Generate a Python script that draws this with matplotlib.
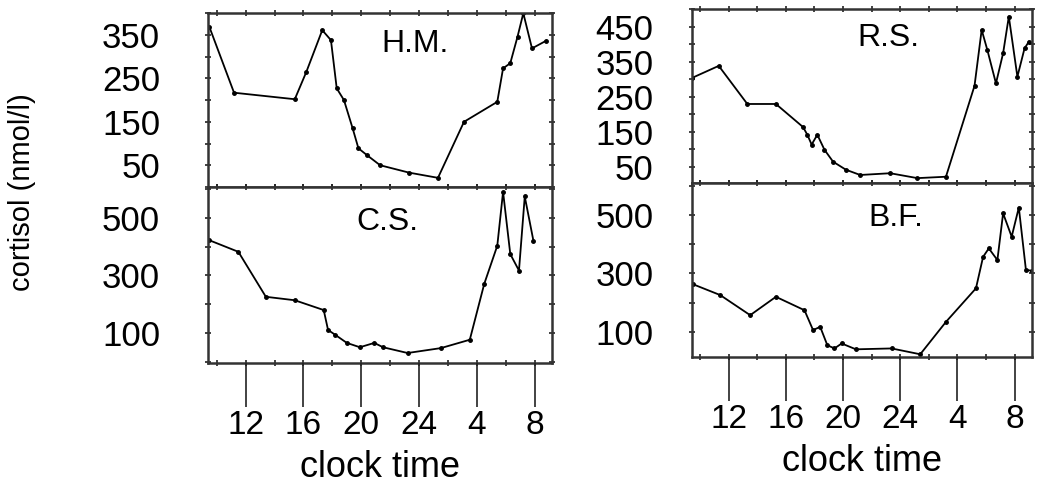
import matplotlib
matplotlib.use("Agg")
import matplotlib.pyplot as plt
from matplotlib.ticker import MultipleLocator

plt.rcParams['font.family'] = ['Liberation Sans', 'DejaVu Sans']

# clock time in hours, 24 = midnight, 28 = 4 h, 32 = 8 h next morning
hm_time = [9.5, 11.2, 15.4, 16.2, 17.3, 17.9, 18.3, 18.8, 19.4, 19.8, 20.4, 21.3,
           23.3, 25.3, 27.1, 29.4, 29.8, 30.3, 30.8, 31.2, 31.8, 32.8]
hm_cort = [368, 217, 202, 265, 361, 338, 227, 200, 135, 89, 73, 50,
           33, 21, 150, 196, 273, 285, 346, 400, 319, 337]

cs_time = [9.5, 11.5, 13.4, 15.4, 17.4, 17.7, 18.2, 19.0, 19.9, 20.9, 21.5,
           23.2, 25.5, 27.5, 28.5, 29.4, 29.8, 30.3, 30.9, 31.3, 31.9]
cs_cort = [422, 382, 226, 214, 180, 111, 94, 66, 51, 66, 51,
           31, 48, 77, 271, 403, 590, 374, 317, 574, 420]

rs_time = [9.4, 11.3, 13.3, 15.3, 17.2, 17.5, 17.8, 18.2, 18.7, 19.3, 20.2, 21.2,
           23.3, 25.2, 27.2, 29.2, 29.7, 30.1, 30.7, 31.2, 31.6, 32.2, 32.7, 33.0]
rs_cort = [303, 338, 229, 229, 163, 141, 113, 141, 98, 64, 41, 26,
           31, 17, 21, 281, 441, 383, 288, 374, 479, 307, 388, 407]

bf_time = [9.5, 11.4, 13.5, 15.3, 17.3, 17.9, 18.4, 18.9, 19.4, 19.9, 20.9,
           23.4, 25.4, 27.2, 29.3, 29.8, 30.2, 30.8, 31.2, 31.8, 32.3, 32.8, 33.2]
bf_cort = [263, 226, 157, 220, 174, 106, 117, 54, 43, 60, 40,
           43, 23, 134, 249, 357, 386, 346, 506, 426, 526, 311, 310]

hour_ticks = [12, 16, 20, 24, 28, 32]
hour_labels = ["12", "16", "20", "24", "4", "8"]


def draw_panel(ax, t, c, name, yticks, ystep, ylim, label_x, label_y, ypad):
    ax.plot(t, c, color="black", linewidth=1.3, marker="o", markersize=2.5)
    ax.set_xlim(9.4, 33.2)
    ax.set_ylim(*ylim)
    ax.set_yticks(yticks)
    ax.xaxis.set_major_locator(MultipleLocator(2))
    ax.yaxis.set_minor_locator(MultipleLocator(ystep))
    ax.tick_params(which="both", direction="inout", top=True, right=True,
                   length=5, width=1.2, color="#222222")
    ax.tick_params(axis="x", labelbottom=False)
    ax.tick_params(axis="y", which="major", labelsize=25, pad=ypad)
    for s in ax.spines.values():
        s.set_linewidth(1.8)
        s.set_color("#333333")
    ax.text(label_x, label_y, name, transform=ax.transAxes, fontsize=23,
            ha="center", va="center")


def add_clock_axis(fig, ax):
    # separate long ticks under the bottom panel, like the printed figure
    pos = ax.get_position()
    tax = fig.add_axes([pos.x0, pos.y0, pos.width, 0.001])
    tax.set_xlim(ax.get_xlim())
    tax.set_xticks(hour_ticks)
    tax.set_xticklabels(hour_labels)
    tax.set_yticks([])
    for s in tax.spines.values():
        s.set_visible(False)
    tax.patch.set_alpha(0)
    tax.tick_params(axis="x", direction="out", length=32, width=1.2,
                    labelsize=24, pad=2, color="#222222")
    tax.set_xlabel("clock time", fontsize=26, labelpad=6)


fig = plt.figure(figsize=(10.4, 4.92), dpi=100)

ax1 = fig.add_axes([0.200, 0.620, 0.331, 0.354])
ax2 = fig.add_axes([0.200, 0.262, 0.331, 0.358])
ax3 = fig.add_axes([0.665, 0.628, 0.327, 0.354])
ax4 = fig.add_axes([0.665, 0.274, 0.327, 0.354])

draw_panel(ax1, hm_time, hm_cort, "H.M.", [50, 150, 250, 350], 50, (0, 401), 0.6, 0.82, 32)
draw_panel(ax2, cs_time, cs_cort, "C.S.", [100, 300, 500], 100, (-4, 607), 0.52, 0.8, 32)
draw_panel(ax3, rs_time, rs_cort, "R.S.", [50, 150, 250, 350, 450], 50, (3, 501), 0.58, 0.83, 25)
draw_panel(ax4, bf_time, bf_cort, "B.F.", [100, 300, 500], 100, (13, 610), 0.6, 0.8, 25)

add_clock_axis(fig, ax2)
add_clock_axis(fig, ax4)

fig.text(0.021, 0.61, "cortisol (nmol/l)", rotation=90, fontsize=21,
         ha="center", va="center")

fig.savefig("out.png", dpi=100)
